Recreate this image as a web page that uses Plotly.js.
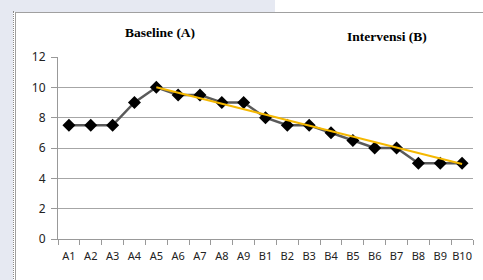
<!DOCTYPE html>
<html>
<head>
<meta charset="utf-8">
<script src="https://cdn.plot.ly/plotly-3.0.1.min.js"></script>
<style>
html,body{margin:0;padding:0;background:#fff;}
#wrap{position:relative;width:483px;height:280px;overflow:hidden;}
#wm1{position:absolute;left:0;top:0;width:275px;height:12px;background:#e6e9f2;}
#wm2{position:absolute;left:0;top:0;width:13px;height:280px;background:#e6e9f2;}
#dot{position:absolute;left:13px;top:11px;width:0;height:280px;border-left:1px dotted #8a8a8a;}
#frame{position:absolute;left:15px;top:12px;width:480px;height:280px;border-left:1px solid #a0a0a0;border-top:1px solid #a0a0a0;background:#fff;}
#chart{position:absolute;left:0;top:0;width:483px;height:280px;}
</style>
</head>
<body>
<div id="wrap">
<div id="wm1"></div><div id="wm2"></div><div id="dot"></div><div id="frame"></div>
<div id="chart"></div>
</div>
<script>
var categories = ['A1','A2','A3','A4','A5','A6','A7','A8','A9','B1','B2','B3','B4','B5','B6','B7','B8','B9','B10'];
var values = [7.5,7.5,7.5,9,10,9.5,9.5,9,9,8,7.5,7.5,7,6.5,6,6,5,5,5];
var trendX = ['A5','B10'];
var trendY = [10,4.95];
var yTicks = [0,2,4,6,8,10,12];

var data = [
  {x:categories, y:values, type:'scatter', mode:'lines+markers',
   line:{color:'#5a5a5a', width:2.5},
   marker:{symbol:'diamond', size:10, color:'#000'}, hoverinfo:'skip'},
  {x:trendX, y:trendY, type:'scatter', mode:'lines',
   line:{color:'#F5B800', width:2}, hoverinfo:'skip'}
];
var xFont = {family:'Noto Sans, Open Sans, sans-serif', size:11, color:'#222'};
var yFont = {family:'Noto Sans, Open Sans, sans-serif', size:12, color:'#222'};
var layout = {
  width:483, height:280,
  margin:{l:58, r:10, t:57, b:41},
  paper_bgcolor:'rgba(0,0,0,0)', plot_bgcolor:'rgba(0,0,0,0)',
  showlegend:false,
  xaxis:{type:'category', categoryarray:categories, showgrid:false, showline:true, linecolor:'#999', linewidth:1,
         ticks:'outside', tickson:'boundaries', ticklen:5, tickcolor:'#999', tickfont:xFont, zeroline:false,
         tickangle:0, ticklabelstandoff:7, range:[-0.5,18.5]},
  yaxis:{range:[0,12], tickvals:yTicks, showgrid:true, gridcolor:'#a6a6a6', gridwidth:1, showline:true,
         linecolor:'#999', ticks:'outside', ticklen:6, tickcolor:'#999', tickfont:yFont, zeroline:false,
         ticklabelstandoff:3},
  annotations:[
    {text:'<b>Baseline (A)</b>', xref:'paper', yref:'paper', x:0.246, y:1.137, xanchor:'center', yanchor:'middle', showarrow:false,
     font:{family:'Liberation Serif, Times New Roman, serif', size:13.5, color:'#000'}},
    {text:'<b>Intervensi (B)</b>', xref:'paper', yref:'paper', x:0.793, y:1.110, xanchor:'center', yanchor:'middle', showarrow:false,
     font:{family:'Liberation Serif, Times New Roman, serif', size:13.5, color:'#000'}}
  ]
};
Plotly.newPlot('chart', data, layout, {staticPlot:true, displayModeBar:false});
</script>
</body>
</html>
